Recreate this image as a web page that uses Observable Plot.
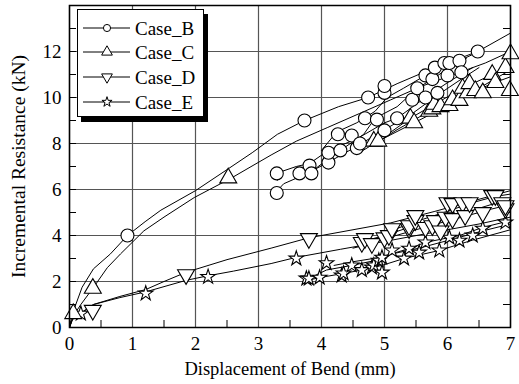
<!DOCTYPE html>
<html><head><meta charset="utf-8">
<script src="https://cdn.jsdelivr.net/npm/d3@7"></script>
<script src="https://cdn.jsdelivr.net/npm/@observablehq/plot@0.6"></script>
<style>body{margin:0;background:#fff}#chart{width:519px;height:384px}
#chart svg, #chart svg text{font-family:"Liberation Serif","Times New Roman",Times,Tinos,"DejaVu Serif",serif !important}</style>
</head><body><div id="chart"></div>
<script>
// ---- axes / labels ----
const xTicks = [0, 1, 2, 3, 4, 5, 6, 7];
const yTicks = [0, 2, 4, 6, 8, 10, 12];
const xMinor = [0.5, 1.5, 2.5, 3.5, 4.5, 5.5, 6.5];
const yMinor = [1, 3, 5, 7, 9, 11, 13];
const xTitle = "Displacement of Bend (mm)";
const yTitle = "Incremental Resistance (kN)";
const seriesNames = ["Case_B", "Case_C", "Case_D", "Case_E"];

// ---- Case_B ----
const caseBMain = [[0,0],[0.02,0.3],[0.1,1.0],[0.2,1.75],[0.38,2.55],[0.65,3.2],[0.92,4.0],[1.2,4.6],[1.45,5.1],[2.0,5.95],[2.52,6.9],[2.9,7.6],[3.3,8.4],[3.73,9.0],[4.27,9.6],[4.74,10.0],[5.2,10.6],[5.8,11.3],[6.48,12.0],[7,12.8]];
const caseBReload1 = [[3.27,5.87],[3.4,6.25],[3.65,6.55],[3.84,6.8],[4.1,7.17],[4.51,7.8],[5.0,8.6],[5.44,9.3],[5.84,10.1],[6.22,10.8],[6.5,11.3]];
const caseBReload2 = [[3.3,6.4],[3.32,6.74],[3.6,7.0],[3.81,7.13],[4.11,7.7],[4.56,8.2],[5.0,8.9],[5.2,9.1],[5.65,10.0],[6.03,10.7],[6.4,11.3]];
const caseBReload3 = [[3.9,6.9],[4.24,7.6],[4.3,7.7],[4.67,8.4],[4.85,9.1],[5.2,9.6],[5.52,10.4],[5.76,10.8],[6.03,11.3],[6.3,11.7]];
const caseBReload4 = [[4.0,7.7],[4.24,8.5],[4.56,8.9],[4.85,9.4],[5.04,10.0],[5.3,10.4],[5.65,10.96],[5.95,11.5],[6.19,11.6],[6.5,12.0]];
const caseBMarks = [[0.92,4.0],[3.73,9.0],[4.74,10.0],[6.48,12.0],[3.29,5.85],[3.29,6.7],[3.65,6.7],[3.81,7.04],[3.84,6.7],[4.11,7.17],[4.11,7.6],[4.26,8.4],[4.3,7.7],[4.48,8.35],[4.56,7.8],[4.61,8.0],[4.69,9.1],[4.88,9.04],[5.0,8.57],[5.0,10.2],[5.0,10.5],[5.2,9.1],[5.44,9.9],[5.52,10.4],[5.65,10.96],[5.65,10.0],[5.76,10.8],[5.8,11.3],[5.84,10.2],[5.95,11.5],[6.0,10.96],[6.03,11.5],[6.19,11.6],[6.22,11.1]];

// ---- Case_C ----
const caseCMain = [[0,0],[0.06,0.5],[0.18,1.0],[0.38,1.74],[0.6,2.6],[0.81,3.2],[1.18,4.2],[1.5,4.8],[1.98,5.65],[2.57,6.5],[3.2,7.5],[3.6,8.1],[4.1,8.7],[4.6,9.3],[5.1,9.9],[5.6,10.5],[6.1,11.0],[6.6,11.5],[7,12.0]];
const caseCReload1 = [[4.6,7.6],[4.9,8.1],[5.47,8.9],[5.9,9.5],[6.3,10.1],[6.7,10.6],[7,10.9]];
const caseCReload2 = [[4.8,7.9],[5.2,8.6],[5.71,9.4],[6.08,9.9],[6.56,10.5],[7,11.2]];
const caseCReload3 = [[5.0,8.3],[5.41,9.1],[5.79,9.7],[6.24,10.4],[6.71,11.0],[7,11.4]];
const caseCMarks = [[0.06,0.6],[0.37,1.7],[2.52,6.5],[4.83,8.1],[4.9,8.1],[5.41,9.1],[5.47,8.9],[5.71,9.4],[5.76,9.5],[5.79,9.7],[5.89,9.6],[6.03,9.65],[6.08,9.9],[6.19,9.87],[6.24,10.4],[6.32,10.2],[6.35,10.6],[6.44,10.3],[6.56,10.2],[6.71,11.0],[6.76,10.65],[6.92,11.3],[7.0,11.9],[6.99,10.3]];

// ---- Case_D ----
const caseDMain = [[0,0],[0.05,0.4],[0.38,1.0],[0.8,1.35],[1.21,1.65],[1.5,2.0],[1.85,2.4],[2.5,2.95],[3.2,3.45],[3.8,3.9],[4.5,4.25],[5.1,4.55],[5.8,5.05],[6.4,5.5],[7,5.95]];
const caseDReload1 = [[4.5,3.45],[4.8,3.65],[5.12,3.95],[5.5,4.25],[5.89,4.55],[6.3,4.85],[6.7,5.15],[7,5.35]];
const caseDReload2 = [[4.6,3.7],[5.0,4.0],[5.39,4.35],[5.8,4.7],[6.28,5.0],[6.7,5.35],[7,5.55]];
const caseDReload3 = [[4.9,4.0],[5.49,4.6],[6.0,5.05],[6.36,5.4],[6.76,5.7],[7,5.8]];
const caseDMarks = [[0.37,0.75],[1.85,2.3],[3.8,3.87],[4.64,3.7],[4.69,3.87],[4.8,3.65],[5.0,3.9],[5.07,4.0],[5.12,4.3],[5.39,4.3],[5.39,4.43],[5.49,4.65],[5.49,4.87],[5.65,4.35],[5.76,4.43],[5.8,4.65],[5.89,4.2],[5.97,4.8],[6.0,5.43],[6.08,4.74],[6.08,5.39],[6.24,5.43],[6.28,4.87],[6.35,5.43],[6.56,5.0],[6.71,5.74],[6.76,5.74],[6.87,5.43],[6.92,5.17],[6.92,5.3]];

// ---- Case_E ----
const caseEMain = [[0,0],[0.05,0.35],[0.18,0.6],[0.38,1.0],[0.8,1.3],[1.21,1.55],[1.85,2.05],[2.2,2.25],[2.6,2.45],[3.2,2.78],[3.6,3.05],[4.3,3.4],[5.12,3.8],[5.8,4.15],[6.5,4.5],[7,4.8]];
const caseEReload1 = [[3.7,2.0],[3.97,2.17],[4.35,2.35],[4.64,2.5],[4.96,2.7],[5.31,3.0],[5.87,3.35],[6.4,3.8],[7,4.25]];
const caseEReload2 = [[3.85,2.2],[4.08,2.5],[4.48,2.7],[4.83,2.9],[5.12,3.2],[5.55,3.45],[6.03,3.8],[6.56,4.2],[7,4.5]];
const caseEReload3 = [[4.2,2.7],[4.48,2.85],[4.91,3.04],[5.39,3.43],[5.65,3.7],[6.19,4.0],[6.56,4.35],[7,4.65]];
const caseEMarks = [[0.18,0.6],[1.21,1.48],[2.2,2.2],[3.6,3.0],[3.76,2.13],[3.8,2.13],[3.97,2.17],[4.08,2.8],[4.32,2.26],[4.35,2.35],[4.48,2.7],[4.64,2.5],[4.8,2.61],[4.83,2.7],[4.91,2.91],[4.96,2.39],[4.96,3.04],[5.12,3.35],[5.31,3.0],[5.39,3.43],[5.55,3.26],[5.65,3.7],[5.87,3.35],[6.03,3.91],[6.19,3.78],[6.4,4.0],[6.56,4.3],[6.92,4.57]];

// ---- build tables ----
const curves = {
  B: [caseBMain, caseBReload1, caseBReload2, caseBReload3, caseBReload4],
  C: [caseCMain, caseCReload1, caseCReload2, caseCReload3],
  D: [caseDMain, caseDReload1, caseDReload2, caseDReload3],
  E: [caseEMain, caseEReload1, caseEReload2, caseEReload3]
};
const lineRows = [];
for (const [k, list] of Object.entries(curves)) list.forEach((c, i) => c.forEach(([x, y]) => lineRows.push({x, y, id: k + i})));
const pts = a => a.map(([x, y]) => ({x, y}));

const triDown = {
  draw(context, size) {
    const y = -Math.sqrt(size / (Math.sqrt(3) * 3));
    context.moveTo(0, -y * 2);
    context.lineTo(-Math.sqrt(3) * y, y);
    context.lineTo(Math.sqrt(3) * y, y);
    context.closePath();
  }
};

const W = 519, H = 384, mL = 69, mR = 9, mT = 5, mB = 57;
const pw = W - mL - mR, ph = H - mT - mB;
const font = '"Liberation Serif","Times New Roman",Times,Tinos,"DejaVu Serif",serif';
const mk = {fill: "white", stroke: "black", strokeWidth: 1.1};

const chart = Plot.plot({
  width: W, height: H,
  marginLeft: mL, marginRight: mR, marginTop: mT, marginBottom: mB,
  style: {fontFamily: font, fontSize: "19px", background: "white", color: "black"},
  x: {domain: [0, 7], ticks: xTicks, tickSize: 0, tickPadding: 9, label: null, tickFormat: d => d},
  y: {domain: [0, 14], ticks: yTicks, tickSize: 0, tickPadding: 8, label: null, tickFormat: d => d},
  marks: [
    Plot.ruleX(xTicks, {x: d => d, stroke: "#555", strokeWidth: 1.2}),
    Plot.ruleY(yTicks, {y: d => d, stroke: "#555", strokeWidth: 1.2}),
    Plot.tickY(yMinor.concat(yTicks), {y: d => d, insetRight: pw - 7, stroke: "black"}),
    Plot.tickY(yMinor, {y: d => d, insetLeft: pw - 7, stroke: "black"}),
    Plot.tickX(xMinor, {x: d => d, insetTop: ph - 7, stroke: "black"}),
    Plot.line(lineRows, {x: "x", y: "y", z: "id", stroke: "black", strokeWidth: 1}),
    Plot.dot(pts(caseEMarks), {x: "x", y: "y", symbol: "star", r: 4.6, ...mk}),
    Plot.dot(pts(caseDMarks), {x: "x", y: "y", symbol: triDown, r: 6.3, ...mk}),
    Plot.dot(pts(caseCMarks), {x: "x", y: "y", symbol: "triangle", r: 6.3, ...mk}),
    Plot.dot(pts(caseBMarks), {x: "x", y: "y", symbol: "circle", r: 6.5, ...mk}),
    Plot.frame({stroke: "black", strokeWidth: 1.5}),
    Plot.text([xTitle], {text: d => d, frameAnchor: "bottom", dy: 42, fontSize: 18.5, lineAnchor: "middle", textAnchor: "middle"}),
    Plot.text([yTitle], {text: d => d, frameAnchor: "left", dx: -51, rotate: -90, fontSize: 19.5, lineAnchor: "middle", textAnchor: "middle"})
  ]
});
document.getElementById("chart").appendChild(chart);

// ---- in-plot legend ----
const svg = d3.select(chart);
const lg = svg.append("g");
lg.append("rect").attr("x", 81).attr("y", 14).attr("width", 127).attr("height", 108).attr("fill", "black");
lg.append("rect").attr("x", 77.5).attr("y", 9.5).attr("width", 126).attr("height", 107).attr("fill", "white").attr("stroke", "black").attr("stroke-width", 1);
const legSyms = [d3.symbolCircle, d3.symbolTriangle, triDown, d3.symbolStar];
const legSizes = [40, 50, 50, 32];
const rowY = [28, 52, 77, 102];
seriesNames.forEach((name, i) => {
  lg.append("line").attr("x1", 83).attr("x2", 130).attr("y1", rowY[i]).attr("y2", rowY[i]).attr("stroke", "black").attr("stroke-width", 1);
  lg.append("path").attr("d", d3.symbol(legSyms[i], legSizes[i])()).attr("transform", `translate(107,${rowY[i]})`)
    .attr("fill", "white").attr("stroke", "black").attr("stroke-width", 1);
  lg.append("text").attr("x", 135).attr("y", rowY[i]).attr("dy", "0.35em").attr("text-anchor", "start")
    .attr("font-size", 19).attr("font-family", font).text(name);
});
</script>
</body></html>
